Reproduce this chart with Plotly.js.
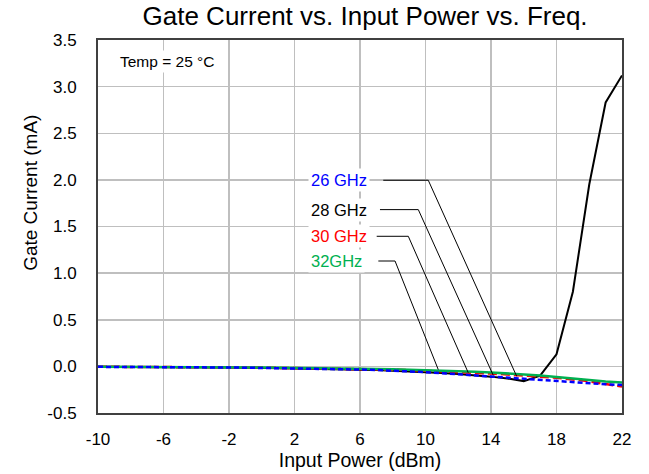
<!DOCTYPE html>
<html>
<head>
<meta charset="utf-8">
<script src="https://cdn.plot.ly/plotly-3.0.1.min.js"></script>
<style>html,body{margin:0;padding:0;background:#fff;}#chart{width:649px;height:474px;}</style>
</head>
<body>
<div id="chart"></div>
<script>
const inputPower = [-10,-9,-8,-7,-6,-5,-4,-3,-2,-1,0,1,2,3,4,5,6,7,8,9,10,11,12,13,14,15,16,17,18,19,20,21,22];
const current26 = [-0.005,-0.005,-0.006,-0.007,-0.008,-0.009,-0.010,-0.011,-0.012,-0.014,-0.016,-0.018,-0.020,-0.023,-0.026,-0.030,-0.034,-0.039,-0.045,-0.052,-0.062,-0.073,-0.085,-0.098,-0.112,-0.125,-0.138,-0.150,-0.163,-0.173,-0.183,-0.192,-0.200];
const current28 = [-0.005,-0.005,-0.006,-0.007,-0.008,-0.009,-0.010,-0.011,-0.012,-0.014,-0.016,-0.018,-0.021,-0.024,-0.027,-0.031,-0.035,-0.040,-0.046,-0.053,-0.061,-0.071,-0.082,-0.095,-0.110,-0.130,-0.158,-0.100,0.130,0.800,1.950,2.830,3.120];
const current30 = [-0.004,-0.004,-0.005,-0.006,-0.007,-0.008,-0.009,-0.010,-0.011,-0.012,-0.013,-0.015,-0.017,-0.019,-0.021,-0.024,-0.027,-0.031,-0.035,-0.040,-0.046,-0.053,-0.060,-0.068,-0.077,-0.087,-0.098,-0.110,-0.122,-0.140,-0.160,-0.190,-0.215];
const current32 = [-0.003,-0.003,-0.004,-0.005,-0.006,-0.007,-0.008,-0.009,-0.010,-0.011,-0.012,-0.013,-0.015,-0.017,-0.019,-0.021,-0.024,-0.027,-0.030,-0.034,-0.038,-0.044,-0.050,-0.057,-0.065,-0.074,-0.085,-0.098,-0.113,-0.130,-0.148,-0.162,-0.172];
const seriesNames = ['26 GHz','28 GHz','30 GHz','32GHz'];
const xTicks = [-10,-6,-2,2,6,10,14,18,22];
const xTickLabels = ['-10','-6','-2','2','6','10','14','18','22'];
const yTicks = [-0.5,0,0.5,1,1.5,2,2.5,3,3.5];
const yTickLabels = ['-0.5','0.0','0.5','1.0','1.5','2.0','2.5','3.0','3.5'];

// label leader geometry (annotation placement, data units)
const leaderStartX = [7.42, 7.22, 7.02, 7.12];
const leaderBendX  = [10.17, 9.56, 8.95, 8.14];
const leaderLabelY = [1.996, 1.681, 1.395, 1.130];
const leaderEndX   = [15.57, 14.14, 12.61, 10.78];
const leaderEndY   = [-0.107, -0.097, -0.068, -0.035];
const labelColors = ['#0000FF','#000000','#FF0000','#00B050'];

const FONT = 'Liberation Sans, Arial, sans-serif';

const traces = [
  {x: inputPower, y: current28, name: seriesNames[1], mode:'lines', line:{color:'#000000', width:2}},
  {x: inputPower, y: current30, name: seriesNames[2], mode:'lines', line:{color:'#FF0000', width:2.5, dash:'9px,4px'}},
  {x: inputPower, y: current32, name: seriesNames[3], mode:'lines', line:{color:'#00B050', width:2.5}},
  {x: inputPower, y: current26, name: seriesNames[0], mode:'lines', line:{color:'#0000FF', width:2.5, dash:'5px,3px'}}
];

const shapes = [];
const annotations = [];
for (let i = 0; i < seriesNames.length; i++) {
  shapes.push({type:'path', xref:'x', yref:'y',
    path:`M ${leaderStartX[i]},${leaderLabelY[i]} L ${leaderBendX[i]},${leaderLabelY[i]} L ${leaderEndX[i]},${leaderEndY[i]}`,
    line:{color:'#000000', width:1}});
  annotations.push({x: 2.82, y: leaderLabelY[i], xref:'x', yref:'y', xanchor:'left', yanchor:'middle',
    text: seriesNames[i], showarrow:false, bgcolor:'#FFFFFF', borderpad:2,
    font:{family:FONT, size:16.5, color:labelColors[i]}});
}
annotations.push({x:0.036, y:0.9436, xref:'paper', yref:'paper', xanchor:'left', yanchor:'middle',
  text:'Temp = 25 °C', showarrow:false, bgcolor:'#FFFFFF', borderpad:2,
  font:{family:FONT, size:15.5, color:'#000000'}});
annotations.push({x:-0.128, y:0.59, xref:'paper', yref:'paper', xanchor:'center', yanchor:'middle',
  text:'Gate Current (mA)', textangle:-90, showarrow:false,
  font:{family:FONT, size:19, color:'#000000'}});

const layout = {
  width:649, height:474,
  margin:{l:98, r:27, t:40, b:61.4, pad:0},
  paper_bgcolor:'#FFFFFF', plot_bgcolor:'#FFFFFF',
  showlegend:false,
  title:{text:'Gate Current vs. Input Power vs. Freq.', x:0.5625, xanchor:'center', y:0.966, yanchor:'middle',
    font:{family:FONT, size:26, color:'#000000'}},
  xaxis:{range:[-10,22], tickmode:'array', tickvals:xTicks, ticktext:xTickLabels,
    showgrid:true, gridcolor:'#BFBFBF', gridwidth:1.5, zeroline:false,
    showline:true, linecolor:'#404040', linewidth:2, mirror:true,
    ticks:'', ticklabelstandoff:10,
    tickfont:{family:FONT, size:17, color:'#000000'},
    title:{text:'Input Power (dBm)', standoff:5, font:{family:FONT, size:19.5, color:'#000000'}}},
  yaxis:{range:[-0.5,3.5], tickmode:'array', tickvals:yTicks, ticktext:yTickLabels,
    showgrid:true, gridcolor:'#BFBFBF', gridwidth:1.5, zeroline:false,
    showline:true, linecolor:'#404040', linewidth:2, mirror:true,
    ticks:'', ticklabelstandoff:16,
    tickfont:{family:FONT, size:17, color:'#000000'}},
  shapes: shapes,
  annotations: annotations
};

Plotly.newPlot('chart', traces, layout, {staticPlot:true, displayModeBar:false});
</script>
</body>
</html>
